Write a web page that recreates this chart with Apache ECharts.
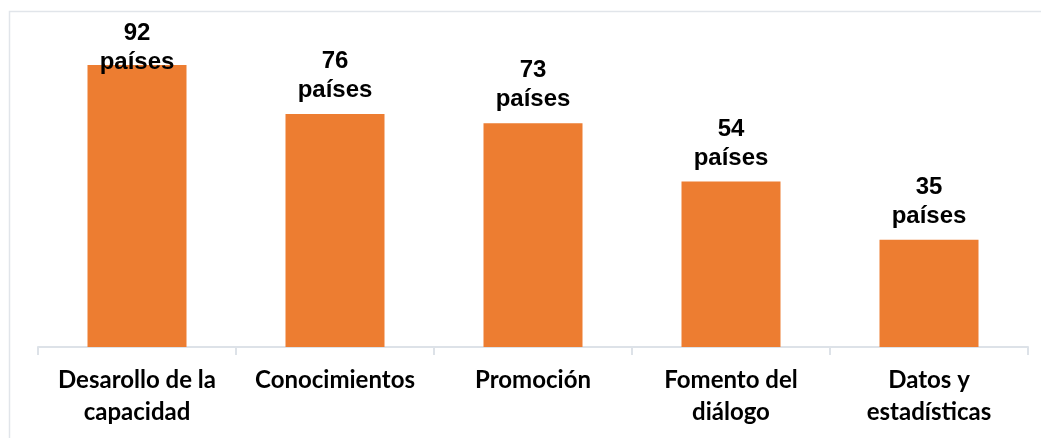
<!DOCTYPE html>
<html>
<head>
<meta charset="utf-8">
<script src="https://cdn.jsdelivr.net/npm/echarts@6/dist/echarts.min.js"></script>
<style>
    html, body { margin: 0; padding: 0; background: #fff; }
    #chart { width: 1041px; height: 438px; }
</style>
</head>
<body>
<div id="chart"></div>
<script>
// 类别与数值
const categories = ['Desarollo de la\ncapacidad', 'Conocimientos', 'Promoción', 'Fomento del\ndiálogo', 'Datos y\nestadísticas'];
const values = [92, 76, 73, 54, 35];
const unitLabel = 'países';

const chart = echarts.init(document.getElementById('chart'));

// 第一个柱子的标签被挤到图内，向下偏移
const barData = values.map(function(v, i) {
    if (i === 0) {
        return { value: v, label: { offset: [0, 21] } };
    }
    return v;
});

const option = {
    animation: false,
    graphic: [
        {
            type: 'rect',
            shape: { x: 9.5, y: 11.5, width: 1100, height: 500 },
            style: { fill: 'none', stroke: '#e1e5ea', lineWidth: 1.5 },
            silent: true
        }
    ],
    grid: {
        left: 38,
        right: 13,
        top: 40.5,
        bottom: 91
    },
    xAxis: {
        type: 'category',
        data: categories,
        axisLine: { lineStyle: { color: '#dde2e8', width: 2 } },
        axisTick: { show: true, length: 8, lineStyle: { color: '#dde2e8', width: 2 } },
        axisLabel: {
            interval: 0,
            margin: 17,
            verticalAlign: 'top',
            fontFamily: 'Lato',
            fontWeight: 'bold',
            fontSize: 24,
            lineHeight: 32,
            color: '#000'
        }
    },
    yAxis: {
        type: 'value',
        min: 0,
        max: 100,
        show: false,
        splitLine: { show: false }
    },
    series: [
        {
            type: 'bar',
            data: barData,
            barWidth: '50%',
            itemStyle: { color: '#ED7D31' },
            label: {
                show: true,
                position: 'top',
                distance: 9,
                formatter: function(p) { return p.value + '\n' + unitLabel; },
                fontFamily: 'Liberation Sans',
                fontWeight: 'bold',
                fontSize: 24,
                lineHeight: 29,
                color: '#000'
            }
        }
    ]
};

chart.setOption(option);
</script>
</body>
</html>
